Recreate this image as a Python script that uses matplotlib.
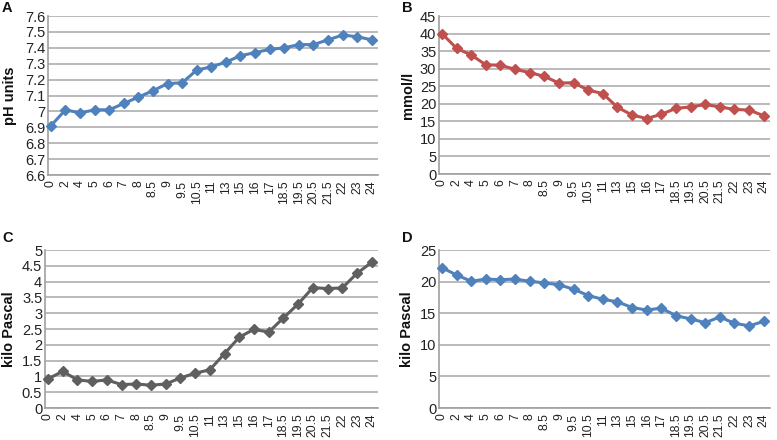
import matplotlib
matplotlib.use("Agg")
import matplotlib.pyplot as plt

plt.rcParams['font.family'] = ['Liberation Sans', 'DejaVu Sans']

hours = ["0", "2", "4", "5", "6", "7", "8", "8.5", "9", "9.5", "10.5", "11", "13",
         "15", "16", "17", "18.5", "19.5", "20.5", "21.5", "22", "23", "24"]

ph = [6.91, 7.01, 6.99, 7.01, 7.01, 7.05, 7.09, 7.13, 7.175, 7.18, 7.26, 7.28, 7.31,
      7.35, 7.37, 7.39, 7.40, 7.42, 7.42, 7.45, 7.48, 7.47, 7.45]
bicarb = [40.0, 35.8, 33.9, 31.1, 31.0, 29.8, 28.9, 27.8, 25.9, 26.0, 23.9, 22.9, 19.0,
          16.8, 15.8, 17.0, 18.7, 19.1, 19.8, 19.1, 18.4, 18.2, 16.6]
pco2 = [0.92, 1.16, 0.89, 0.84, 0.89, 0.74, 0.76, 0.72, 0.76, 0.95, 1.10, 1.21, 1.72,
        2.24, 2.49, 2.40, 2.85, 3.29, 3.81, 3.78, 3.80, 4.26, 4.61]
po2 = [22.2, 21.05, 20.05, 20.4, 20.3, 20.4, 20.05, 19.8, 19.5, 18.8, 17.8, 17.2, 16.8,
       15.9, 15.5, 15.8, 14.6, 14.1, 13.5, 14.4, 13.4, 13.0, 13.7]

W, H = 777, 440
fig = plt.figure(figsize=(W / 100, H / 100), dpi=100)

panels = [
    dict(letter="A", data=ph, color="#4F81BD", ylabel="pH units",
         ylim=(6.6, 7.6), yticks=[6.6, 6.7, 6.8, 6.9, 7.0, 7.1, 7.2, 7.3, 7.4, 7.5, 7.6],
         yticklabels=["6.6", "6.7", "6.8", "6.9", "7", "7.1", "7.2", "7.3", "7.4", "7.5", "7.6"],
         box=(48, 16, 378, 175), letter_pos=(7, 8), ylab_x=10),
    dict(letter="B", data=bicarb, color="#C0504D", ylabel="mmol/l",
         ylim=(0, 45), yticks=list(range(0, 46, 5)),
         yticklabels=[str(v) for v in range(0, 46, 5)],
         box=(439, 16, 770, 174), letter_pos=(407, 8), ylab_x=408),
    dict(letter="C", data=pco2, color="#5F5F5F", ylabel="kilo Pascal",
         ylim=(0, 5), yticks=[0, 0.5, 1, 1.5, 2, 2.5, 3, 3.5, 4, 4.5, 5],
         yticklabels=["0", "0.5", "1", "1.5", "2", "2.5", "3", "3.5", "4", "4.5", "5"],
         box=(45, 250, 378, 408), letter_pos=(8, 238), ylab_x=9),
    dict(letter="D", data=po2, color="#4F81BD", ylabel="kilo Pascal",
         ylim=(0, 25), yticks=list(range(0, 26, 5)),
         yticklabels=[str(v) for v in range(0, 26, 5)],
         box=(439, 250, 770, 408), letter_pos=(407, 238), ylab_x=407),
]

x = list(range(len(hours)))
for p in panels:
    l, t, r, b = p["box"]
    ax = fig.add_axes([l / W, 1 - b / H, (r - l) / W, (b - t) / H])
    ax.plot(x, p["data"], color=p["color"], lw=2.2, marker="D", ms=4.8,
            mec=p["color"], mfc=p["color"], zorder=3, clip_on=False)
    ax.set_ylim(*p["ylim"])
    ax.set_xlim(-0.2, len(hours) - 1 + 0.43)
    ax.set_yticks(p["yticks"])
    ax.set_yticklabels(p["yticklabels"], fontsize=10.5, color="#222222")
    ax.set_xticks(x)
    ax.set_xticklabels(hours, rotation=90, fontsize=8.8, color="#222222")
    ax.tick_params(axis="y", length=0, pad=2)
    ax.tick_params(axis="x", length=0, pad=4)
    ax.grid(axis="y", color="#B4B4B4", lw=1.3)
    ax.set_axisbelow(True)
    for s in ("top", "right"):
        ax.spines[s].set_visible(False)
    for s in ("left", "bottom"):
        ax.spines[s].set_color("#A0A0A0")
        ax.spines[s].set_linewidth(1.2)
    fig.text(p["ylab_x"] / W, 1 - ((t + b) / 2) / H, p["ylabel"], rotation=90,
             ha="center", va="center", fontsize=10.5, fontweight="bold", color="#111111")
    fig.text(p["letter_pos"][0] / W, 1 - p["letter_pos"][1] / H, p["letter"],
             ha="center", va="center", fontsize=10.5, fontweight="bold", color="#111111")

fig.savefig("out.png", dpi=100, facecolor="white")
